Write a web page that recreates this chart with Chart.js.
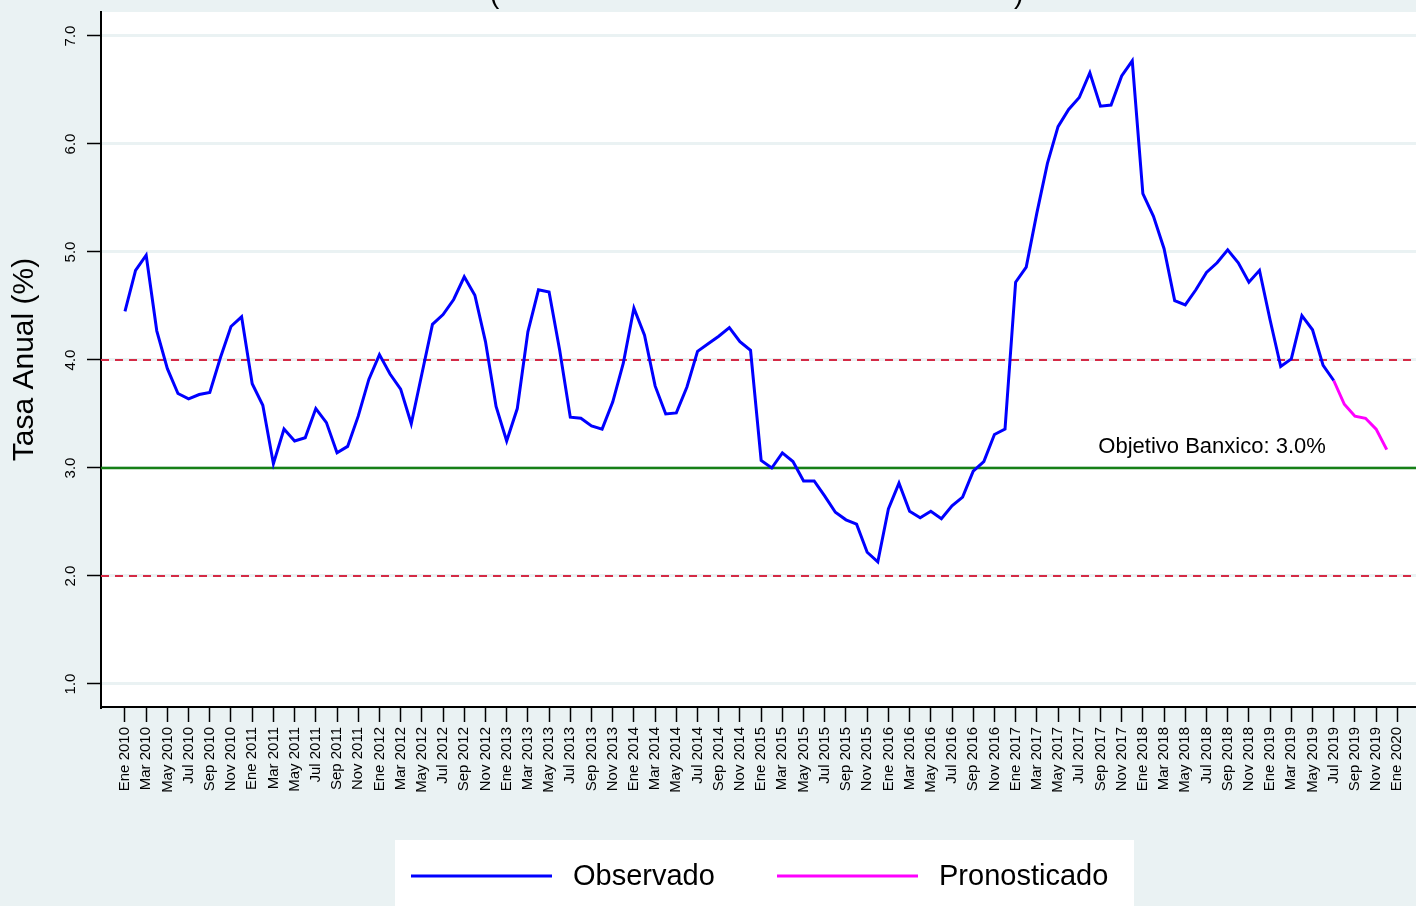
<!DOCTYPE html>
<html>
<head>
<meta charset="utf-8">
<script src="https://cdn.jsdelivr.net/npm/chart.js@4.4.1/dist/chart.umd.min.js"></script>
<style>
  html, body { margin: 0; padding: 0; background: #eaf2f3; }
  canvas { display: block; }
</style>
</head>
<body>
<canvas id="grafica" width="1416" height="906"></canvas>
<script>
// --- DATOS ---
const mesesEtiqueta = ['Ene', 'Mar', 'May', 'Jul', 'Sep', 'Nov'];
const anios = [2010, 2011, 2012, 2013, 2014, 2015, 2016, 2017, 2018, 2019, 2020];

// Inflacion anual observada, mensual desde Ene 2010 hasta Jul 2019
const observado = [
  4.45, 4.83, 4.97, 4.27, 3.92, 3.69, 3.64, 3.68, 3.70, 4.02, 4.31, 4.40,
  3.78, 3.58, 3.04, 3.36, 3.25, 3.28, 3.55, 3.42, 3.14, 3.20, 3.48, 3.82,
  4.05, 3.87, 3.73, 3.41, 3.87, 4.33, 4.42, 4.56, 4.77, 4.60, 4.17, 3.57,
  3.25, 3.55, 4.26, 4.65, 4.63, 4.09, 3.47, 3.46, 3.39, 3.36, 3.61, 3.97,
  4.48, 4.23, 3.76, 3.50, 3.51, 3.75, 4.08, 4.15, 4.22, 4.30, 4.17, 4.09,
  3.07, 3.00, 3.14, 3.06, 2.88, 2.88, 2.74, 2.59, 2.52, 2.48, 2.22, 2.13,
  2.62, 2.86, 2.60, 2.54, 2.60, 2.53, 2.65, 2.73, 2.97, 3.06, 3.31, 3.36,
  4.72, 4.86, 5.36, 5.82, 6.16, 6.32, 6.43, 6.66, 6.35, 6.36, 6.63, 6.77,
  5.54, 5.33, 5.03, 4.55, 4.51, 4.65, 4.81, 4.90, 5.02, 4.90, 4.72, 4.83,
  4.37, 3.94, 4.01, 4.41, 4.28, 3.95, 3.81
];

// Pronostico desde Jul 2019 hasta Dic 2019
const inicioPronostico = 114;
const pronosticado = [3.81, 3.59, 3.48, 3.46, 3.36, 3.17];

const objetivo = 3.0;
const limitesIntervalo = [2.0, 4.0];
const ticksY = [1, 2, 3, 4, 5, 6, 7];

// Etiquetas del eje X cada dos meses
const tickLabels = [];
anios.forEach(a => {
  mesesEtiqueta.forEach(m => {
    if (a < 2020 || m === 'Ene') tickLabels.push(m + ' ' + a);
  });
});

const FUENTE = '"Liberation Sans", Arial, Helvetica, sans-serif';

const ptsObservado = observado.map((v, i) => ({ x: i, y: v }));
const ptsPronostico = pronosticado.map((v, i) => ({ x: inicioPronostico + i, y: v }));
const X_MIN = -2.26, X_MAX = 121.76;

function lineaHorizontal(valor) {
  return [{ x: X_MIN, y: valor }, { x: X_MAX, y: valor }];
}

// --- PLUGIN: fondo, etiquetas Y, anotacion y leyenda ---
const decoraciones = {
  id: 'decoraciones',
  beforeDraw(chart) {
    const ctx = chart.ctx;
    const a = chart.chartArea;
    ctx.save();
    ctx.fillStyle = '#eaf2f3';
    ctx.fillRect(0, 0, chart.width, chart.height);
    ctx.fillStyle = '#ffffff';
    ctx.fillRect(a.left, a.top, a.right - a.left, a.bottom - a.top);
    ctx.restore();
  },
  afterDraw(chart) {
    const ctx = chart.ctx;
    const ys = chart.scales.y;
    const xs = chart.scales.x;
    ctx.save();

    // titulo (solo asoman los parentesis)
    ctx.fillStyle = '#000';
    ctx.font = '28px ' + FUENTE;
    ctx.textBaseline = 'alphabetic';
    ctx.textAlign = 'left';
    ctx.fillText('(', 490, 3);
    ctx.fillText(')', 1014, 3);

    // etiquetas del eje Y giradas
    ctx.font = '15px ' + FUENTE;
    ctx.textAlign = 'center';
    ctx.textBaseline = 'middle';
    ticksY.forEach(v => {
      ctx.save();
      ctx.translate(71, ys.getPixelForValue(v));
      ctx.rotate(-Math.PI / 2);
      ctx.fillText(v.toFixed(1), 0, 0);
      ctx.restore();
    });

    // anotacion del objetivo
    ctx.font = '22px ' + FUENTE;
    ctx.textAlign = 'left';
    ctx.fillText('Objetivo Banxico: ' + objetivo.toFixed(1) + '%', xs.getPixelForValue(91.8), ys.getPixelForValue(objetivo) - 21);

    // leyenda
    ctx.fillStyle = '#ffffff';
    ctx.fillRect(395, 840, 739, 70);
    const items = chart.data.datasets.slice(0, 2);
    const posX = [411, 777];
    items.forEach((ds, i) => {
      ctx.strokeStyle = ds.borderColor;
      ctx.lineWidth = 3;
      ctx.beginPath();
      ctx.moveTo(posX[i], 876);
      ctx.lineTo(posX[i] + 141, 876);
      ctx.stroke();
      ctx.fillStyle = '#000';
      ctx.font = '29px ' + FUENTE;
      ctx.textBaseline = 'middle';
      ctx.fillText(ds.label, posX[i] + 162, 877);
    });
    ctx.restore();
  }
};

new Chart(document.getElementById('grafica').getContext('2d'), {
  type: 'line',
  data: {
    datasets: [
      { label: 'Observado', data: ptsObservado, borderColor: '#0000ff', borderWidth: 3, pointRadius: 0, tension: 0, order: 0 },
      { label: 'Pronosticado', data: ptsPronostico, borderColor: '#ff00ff', borderWidth: 3, pointRadius: 0, tension: 0, order: 1 },
      { label: 'objetivo', data: lineaHorizontal(objetivo), borderColor: '#168016', borderWidth: 2.5, pointRadius: 0, order: 2 },
      { label: 'sup', data: lineaHorizontal(limitesIntervalo[1]), borderColor: '#d42a45', borderWidth: 2, borderDash: [8, 6], pointRadius: 0, order: 3 },
      { label: 'inf', data: lineaHorizontal(limitesIntervalo[0]), borderColor: '#d42a45', borderWidth: 2, borderDash: [8, 6], pointRadius: 0, order: 3 }
    ]
  },
  options: {
    responsive: false,
    devicePixelRatio: 1,
    animation: false,
    layout: { padding: { top: 12, right: 0, left: 0, bottom: 0 } },
    plugins: { legend: { display: false }, tooltip: { enabled: false } },
    scales: {
      x: {
        type: 'linear',
        min: X_MIN,
        max: X_MAX,
        afterBuildTicks: axis => { axis.ticks = tickLabels.map((_, i) => ({ value: i * 2 })); },
        afterFit: axis => { axis.height = 199; axis.paddingLeft = 0; axis.paddingRight = 0; },
        ticks: {
          autoSkip: false,
          minRotation: 90,
          maxRotation: 90,
          padding: 5,
          color: '#000',
          font: { size: 15, family: FUENTE },
          callback: v => tickLabels[Math.round(v / 2)]
        },
        grid: { drawOnChartArea: false, color: '#000', tickColor: '#000', tickLength: 15, tickWidth: 1.5 },
        border: { color: '#000', width: 2 }
      },
      y: {
        type: 'linear',
        min: 0.787,
        max: 7.222,
        afterBuildTicks: axis => { axis.ticks = ticksY.map(v => ({ value: v })); },
        afterFit: axis => { axis.width = 101; axis.paddingTop = 0; axis.paddingBottom = 0; },
        ticks: { display: false },
        grid: { color: '#eaf2f3', lineWidth: 3, tickColor: '#000', tickLength: 14, tickWidth: 1.5 },
        border: { color: '#000', width: 2 },
        title: {
          display: true,
          text: 'Tasa Anual (%)',
          color: '#000',
          font: { size: 30, family: FUENTE },
          padding: { top: 7, bottom: 0 }
        }
      }
    }
  },
  plugins: [decoraciones]
});
</script>
</body>
</html>
